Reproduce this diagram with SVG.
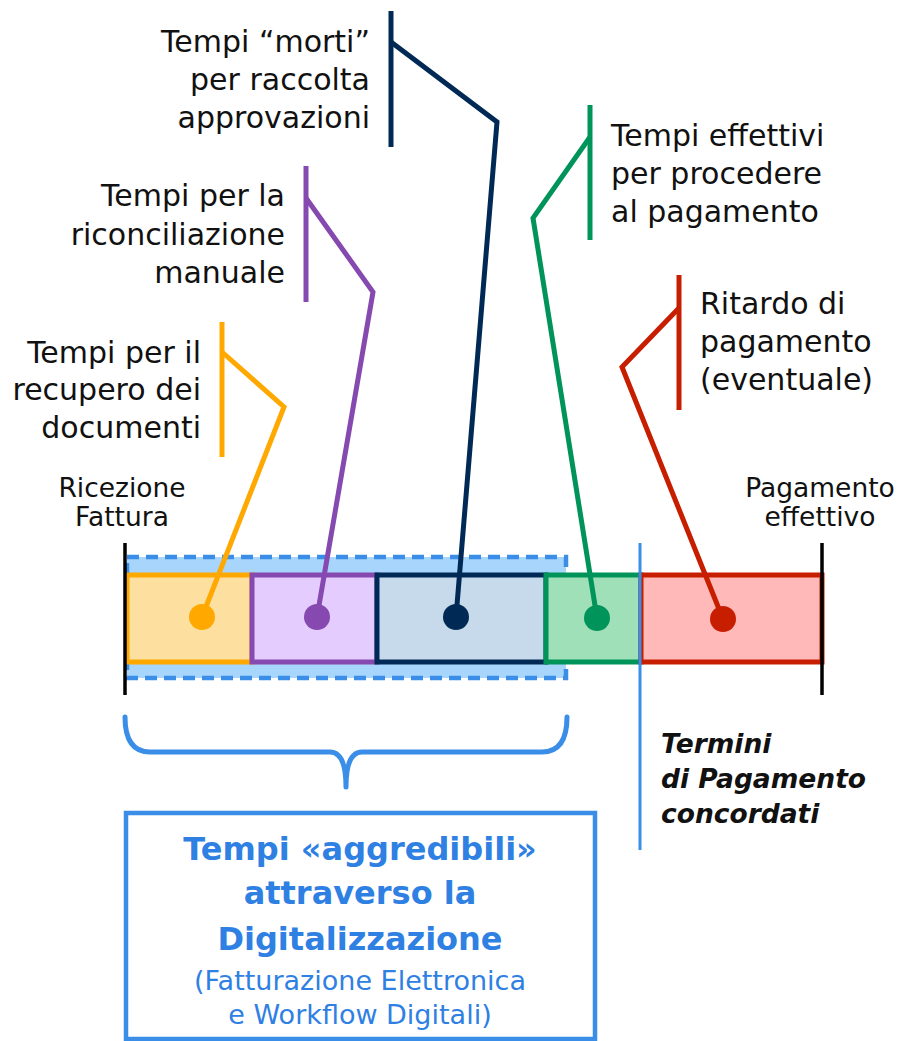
<svg xmlns="http://www.w3.org/2000/svg" width="898" height="1041" viewBox="0 0 898 1041">
<style>
text{font-family:"DejaVu Sans","Liberation Sans",sans-serif;fill:#111;}
.lbl{font-size:30px;}
.end{text-anchor:end;}
.mid{text-anchor:middle;}
.small{font-size:26.5px;}
.lead{fill:none;stroke-width:5;stroke-linejoin:miter;}
.seg{stroke-width:5;}
.tick{stroke:#000;stroke-width:3.5;}
.title{font-weight:bold;font-size:32px;fill:#2f80e3;}
.sub{font-size:27px;fill:#2f80e3;}
.term{font-weight:bold;font-style:italic;font-size:26.5px;}
</style>
<rect width="898" height="1041" fill="#fff"/>

<g id="zone-digital">
<rect x="127" y="557" width="439" height="121" fill="#a8d5fb" stroke="#3a8ee8" stroke-width="4.5" stroke-dasharray="12 7"/>
</g>

<g id="seg-recupero"><rect class="seg" x="127" y="575" width="125" height="87" fill="#fddfa0" stroke="#ffa800"/></g>
<g id="seg-riconciliazione"><rect class="seg" x="252" y="575" width="125" height="87" fill="#e5ccff" stroke="#8549b0"/></g>
<g id="seg-approvazioni"><rect class="seg" x="377" y="575" width="169" height="87" fill="#c7daec" stroke="#002a55"/></g>
<g id="seg-pagamento"><rect class="seg" x="546" y="575" width="95" height="87" fill="#a0e0b8" stroke="#00945a"/></g>
<g id="seg-ritardo"><rect class="seg" x="641" y="575" width="181" height="87" fill="#ffb9b9" stroke="#c81e00"/></g>

<g id="ticks">
<line class="tick" x1="125" y1="543" x2="125" y2="695"/>
<line class="tick" x1="822" y1="543" x2="822" y2="695"/>
<line x1="640" y1="543" x2="640" y2="850" stroke="#3a8ee8" stroke-width="3"/>
</g>

<g id="connectors">
<line x1="222" y1="322" x2="222" y2="457" stroke="#ffa800" stroke-width="5"/>
<polyline class="lead" stroke="#ffa800" points="222,352 284,407 202,617"/>
<circle cx="202" cy="617" r="13" fill="#ffa800"/>

<line x1="306" y1="166" x2="306" y2="302" stroke="#8549b0" stroke-width="5"/>
<polyline class="lead" stroke="#8549b0" points="306,198 373,292 317,617"/>
<circle cx="317" cy="617" r="13" fill="#8549b0"/>

<line x1="391" y1="11" x2="391" y2="147" stroke="#002a55" stroke-width="5"/>
<polyline class="lead" stroke="#002a55" points="391,42 497,122 456,617"/>
<circle cx="456" cy="617" r="13" fill="#002a55"/>

<line x1="590" y1="105" x2="590" y2="240" stroke="#00945a" stroke-width="5"/>
<polyline class="lead" stroke="#00945a" points="590,137 533,218 597,618"/>
<circle cx="597" cy="618" r="13" fill="#00945a"/>

<line x1="679" y1="275" x2="679" y2="410" stroke="#c81e00" stroke-width="5"/>
<polyline class="lead" stroke="#c81e00" points="679,308 622,367 723,619"/>
<circle cx="723" cy="619" r="13" fill="#c81e00"/>

<path d="M125,717 Q125,752 150,752 L330,752 Q346,752 346,787 Q346,752 362,752 L542,752 Q567,752 567,717" fill="none" stroke="#3a8ee8" stroke-width="5" stroke-linecap="round" stroke-linejoin="round"/>
</g>

<g id="label-recupero">
<text class="lbl end" x="201" y="363">Tempi per il</text>
<text class="lbl end" x="201" y="400">recupero dei</text>
<text class="lbl end" x="201" y="438">documenti</text>
</g>
<g id="label-riconciliazione">
<text class="lbl end" x="285" y="206">Tempi per la</text>
<text class="lbl end" x="285" y="245">riconciliazione</text>
<text class="lbl end" x="285" y="283">manuale</text>
</g>
<g id="label-approvazioni">
<text class="lbl end" x="370" y="52">Tempi “morti”</text>
<text class="lbl end" x="370" y="90">per raccolta</text>
<text class="lbl end" x="370" y="128">approvazioni</text>
</g>
<g id="label-pagamento">
<text class="lbl" x="611" y="146">Tempi effettivi</text>
<text class="lbl" x="611" y="184">per procedere</text>
<text class="lbl" x="611" y="222">al pagamento</text>
</g>
<g id="label-ritardo">
<text class="lbl" x="700" y="314">Ritardo di</text>
<text class="lbl" x="700" y="352">pagamento</text>
<text class="lbl" x="700" y="390">(eventuale)</text>
</g>
<g id="label-ricezione">
<text class="small mid" x="122" y="497">Ricezione</text>
<text class="small mid" x="122" y="526">Fattura</text>
</g>
<g id="label-effettivo">
<text class="small mid" x="820" y="497">Pagamento</text>
<text class="small mid" x="820" y="526">effettivo</text>
</g>
<g id="label-termini">
<text class="term" x="661" y="753">Termini</text>
<text class="term" x="661" y="788">di Pagamento</text>
<text class="term" x="661" y="823">concordati</text>
</g>

<g id="box-digitalizzazione">
<rect x="126" y="813" width="469" height="226" fill="none" stroke="#3a8ee8" stroke-width="4.5"/>
<text class="title mid" x="360" y="860">Tempi «aggredibili»</text>
<text class="title mid" x="360" y="904">attraverso la</text>
<text class="title mid" x="360" y="950">Digitalizzazione</text>
<text class="sub mid" x="360" y="990">(Fatturazione Elettronica</text>
<text class="sub mid" x="360" y="1024">e Workflow Digitali)</text>
</g>
</svg>
